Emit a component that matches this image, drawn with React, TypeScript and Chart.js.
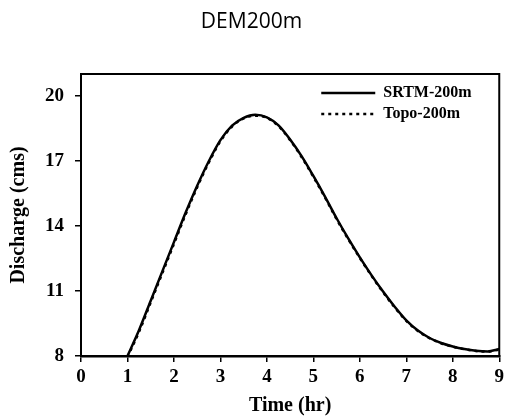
import React, { useEffect, useRef } from "react";
import { Chart, registerables } from "chart.js";

Chart.register(...registerables);

const chartTitle = "DEM200m";
const xAxisTitle = "Time (hr)";
const yAxisTitle = "Discharge (cms)";
const seriesNames = ["SRTM-200m", "Topo-200m"];

const times = [1, 1.25, 1.5, 1.75, 2, 2.25, 2.5, 2.75, 3, 3.25, 3.5, 3.75, 4, 4.25, 4.5, 4.75, 5, 5.25, 5.5, 5.75, 6, 6.25, 6.5, 6.75, 7, 7.25, 7.5, 7.75, 8, 8.25, 8.5, 8.75, 9];
const srtm = [8.0, 9.2, 10.55, 11.9, 13.25, 14.6, 15.85, 16.98, 17.95, 18.62, 18.98, 19.12, 19.0, 18.63, 17.98, 17.2, 16.3, 15.35, 14.35, 13.42, 12.55, 11.73, 10.97, 10.27, 9.64, 9.17, 8.83, 8.6, 8.44, 8.32, 8.24, 8.21, 8.32];
const topo = [7.95, 9.12, 10.47, 11.82, 13.17, 14.52, 15.78, 16.92, 17.9, 18.58, 18.95, 19.08, 18.98, 18.6, 17.95, 17.16, 16.26, 15.31, 14.31, 13.39, 12.52, 11.7, 10.94, 10.24, 9.62, 9.15, 8.82, 8.59, 8.43, 8.31, 8.23, 8.2, 8.3];

const xTicks = [0, 1, 2, 3, 4, 5, 6, 7, 8, 9];
const yTicks = [8, 11, 14, 17, 20];

const serif = "'Liberation Serif', 'Times New Roman', serif";

const boxPlugin = {
  id: "boxPlugin",
  afterDatasetsDraw(chart: any) {
    const { ctx, chartArea } = chart;
    ctx.save();
    ctx.strokeStyle = "#000";
    ctx.lineWidth = 2;
    ctx.strokeRect(chartArea.left, chartArea.top, chartArea.right - chartArea.left, chartArea.bottom - chartArea.top);
    ctx.restore();
  },
};

const innerLegend = {
  id: "innerLegend",
  afterDraw(chart: any) {
    const { ctx, chartArea } = chart;
    ctx.save();
    ctx.font = `bold 16px ${serif}`;
    ctx.textBaseline = "middle";
    ctx.fillStyle = "#000";
    chart.data.datasets.forEach((ds: any, i: number) => {
      const y = chartArea.top + 19 + i * 21;
      const x0 = chartArea.right - 178;
      ctx.beginPath();
      ctx.strokeStyle = "#000";
      ctx.lineWidth = ds.borderWidth;
      ctx.setLineDash(ds.borderDash || []);
      ctx.moveTo(x0, y);
      ctx.lineTo(x0 + 54, y);
      ctx.stroke();
      ctx.setLineDash([]);
      ctx.fillText(ds.label, x0 + 62, y);
    });
    ctx.restore();
  },
};

export default function App() {
  const ref = useRef<HTMLCanvasElement | null>(null);
  useEffect(() => {
    if (!ref.current) return;
    const chart = new Chart(ref.current, {
      type: "line",
      data: {
        datasets: [
          {
            label: seriesNames[0],
            data: times.map((t, i) => ({ x: t, y: srtm[i] })),
            borderColor: "#000",
            borderWidth: 2.5,
            pointRadius: 0,
            cubicInterpolationMode: "monotone",
          },
          {
            label: seriesNames[1],
            data: times.map((t, i) => ({ x: t, y: topo[i] })),
            borderColor: "#000",
            borderWidth: 2.5,
            borderDash: [3, 4],
            pointRadius: 0,
            cubicInterpolationMode: "monotone",
          },
        ],
      },
      options: {
        animation: false,
        responsive: true,
        maintainAspectRatio: false,
        layout: { padding: { left: 0, right: 5, top: 0, bottom: 0 } },
        plugins: {
          legend: { display: false },
          tooltip: { enabled: false },
          title: {
            display: true,
            text: chartTitle,
            color: "#000",
            font: { family: "'Open Sans', sans-serif", size: 21, weight: "normal", lineHeight: 1.2 },
            padding: { top: 9, bottom: 39.8 },
          },
        },
        scales: {
          x: {
            type: "linear",
            min: 0,
            max: 9,
            afterBuildTicks: (s: any) => { s.ticks = xTicks.map((v) => ({ value: v })); },
            afterFit: (s: any) => { s.height = 60; },
            ticks: { color: "#000", font: { family: serif, size: 19, weight: "bold" }, padding: 4, maxRotation: 0 },
            grid: { display: true, drawOnChartArea: false, drawTicks: true, tickLength: 6, color: "#000", lineWidth: 1.5 },
            border: { display: true, color: "#000", width: 2.5 },
            title: { display: true, text: xAxisTitle, color: "#000", font: { family: serif, size: 20, weight: "bold", lineHeight: 1 }, padding: { top: 0, bottom: 0 } },
          },
          y: {
            type: "linear",
            min: 8,
            max: 21,
            afterBuildTicks: (s: any) => { s.ticks = yTicks.map((v) => ({ value: v })); },
            afterFit: (s: any) => { s.width = 81; },
            ticks: { color: "#000", font: { family: serif, size: 19, weight: "bold" }, padding: 11 },
            grid: { display: true, drawOnChartArea: false, drawTicks: true, tickLength: 6, color: "#000", lineWidth: 1.5 },
            border: { display: true, color: "#000", width: 2 },
            title: { display: true, text: yAxisTitle, color: "#000", font: { family: serif, size: 20, weight: "bold", lineHeight: 1 }, padding: { top: 9, bottom: 0 } },
          },
        },
      },
      plugins: [boxPlugin, innerLegend],
    } as any);
    return () => chart.destroy();
  }, []);
  return (
    <div style={{ position: "fixed", left: 0, top: 0, width: 508, height: 416, background: "#fff" }}>
      <canvas ref={ref} />
    </div>
  );
}
